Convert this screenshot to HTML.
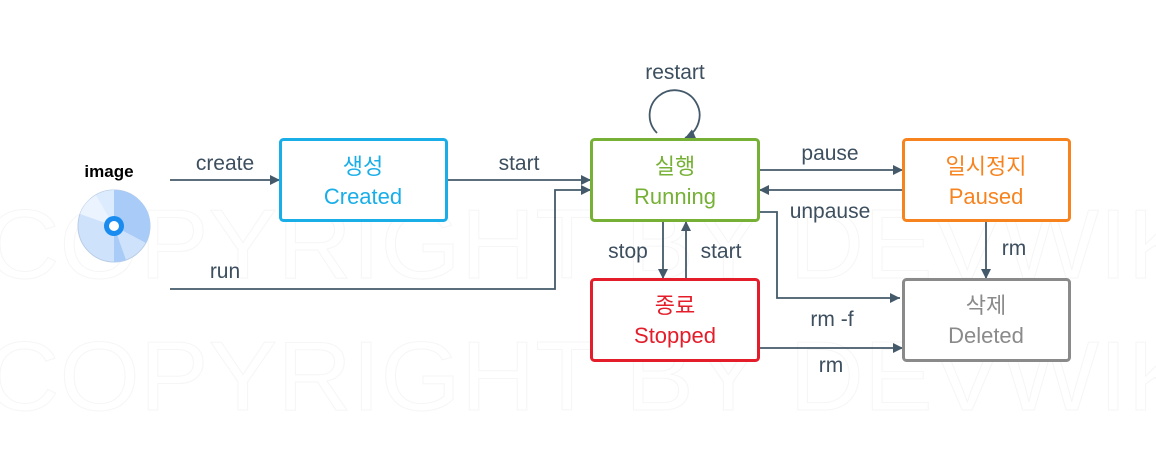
<!DOCTYPE html>
<html><head><meta charset="utf-8"><style>
body{margin:0;background:#fff;}
svg text{font-family:"Liberation Sans","Noto Sans CJK KR",sans-serif;}
</style></head><body>
<svg width="1156" height="452" viewBox="0 0 1156 452" xmlns="http://www.w3.org/2000/svg">
<defs>
<marker id="a" viewBox="0 0 10 10" refX="10" refY="5" markerWidth="10" markerHeight="10" markerUnits="userSpaceOnUse" orient="auto"><path d="M0,0L10,5L0,10z" fill="#44596a"/></marker>
</defs>
<g font-size="98" fill="none" stroke="#f6f6f6" stroke-width="1">
<text x="-15" y="278" textLength="1240" lengthAdjust="spacingAndGlyphs">COPYRIGHT BY DEVWIKI</text>
<text x="-15" y="410" textLength="1240" lengthAdjust="spacingAndGlyphs">COPYRIGHT BY DEVWIKI</text>
</g>
<!-- disc -->
<circle cx="114" cy="226" r="36" fill="#cfe2fb" stroke="#b9cde6"/>
<path d="M114,226 L114,190 A36,36 0 0 1 146,243 Z" fill="#a9cbf7"/>
<path d="M114,226 L96,195 A36,36 0 0 1 114,190 Z" fill="#dcebfd"/>
<path d="M114,226 L80,214 A36,36 0 0 1 96,195 Z" fill="#eaf3fe"/>
<path d="M114,226 L126,260 A36,36 0 0 1 114,262 L114,226 Z" fill="#a9cbf7"/>
<circle cx="114" cy="226" r="10" fill="#1a8cf0"/>
<circle cx="114" cy="226" r="5" fill="#fff"/>
<text x="109" y="177" font-size="17" font-weight="bold" fill="#000" text-anchor="middle">image</text>
<g stroke="#44596a" stroke-width="1.8" fill="none">
<path d="M170,180H280" marker-end="url(#a)"/>
<path d="M447,180H591" marker-end="url(#a)"/>
<path d="M170,289H555V190H591" marker-end="url(#a)"/>
<path d="M759,170H903" marker-end="url(#a)"/>
<path d="M903,190H759" marker-end="url(#a)"/>
<path d="M759,212H777V298H900" marker-end="url(#a)"/>
<path d="M759,348H903" marker-end="url(#a)"/>
<path d="M663,221V279" marker-end="url(#a)"/>
<path d="M686,279V221" marker-end="url(#a)"/>
<path d="M986,221V279" marker-end="url(#a)"/>
<path d="M657,133 A25,25 0 1 1 685,138" marker-end="url(#a)"/>
</g>
<g font-size="21" fill="#3d4f5f" text-anchor="middle">
<text x="225" y="170">create</text>
<text x="519" y="170">start</text>
<text x="225" y="278">run</text>
<text x="675" y="79">restart</text>
<text x="830" y="160">pause</text>
<text x="830" y="218">unpause</text>
<text x="628" y="258">stop</text>
<text x="721" y="258">start</text>
<text x="1014" y="255">rm</text>
<text x="832" y="326">rm -f</text>
<text x="831" y="372">rm</text>
</g>
<g stroke-width="3" fill="#fff">
<rect x="280.5" y="139.5" width="166" height="81" rx="3" stroke="#19aee8"/>
<rect x="591.5" y="139.5" width="167" height="81" rx="3" stroke="#76b136"/>
<rect x="903.5" y="139.5" width="166" height="81" rx="3" stroke="#f7831f"/>
<rect x="591.5" y="279.5" width="167" height="81" rx="3" stroke="#e41d2a"/>
<rect x="903.5" y="279.5" width="166" height="81" rx="3" stroke="#8a8a8a"/>
</g>
<g font-size="22" text-anchor="middle">
<text x="363" y="174" fill="#19aee8">생성</text><text x="363" y="204" fill="#19aee8">Created</text>
<text x="675" y="174" fill="#76b136">실행</text><text x="675" y="204" fill="#76b136">Running</text>
<text x="986" y="174" fill="#f7831f">일시정지</text><text x="986" y="204" fill="#f7831f">Paused</text>
<text x="675" y="313" fill="#e41d2a">종료</text><text x="675" y="343" fill="#e41d2a">Stopped</text>
<text x="986" y="313" fill="#8a8a8a">삭제</text><text x="986" y="343" fill="#8a8a8a">Deleted</text>
</g>
</svg>
</body></html>
